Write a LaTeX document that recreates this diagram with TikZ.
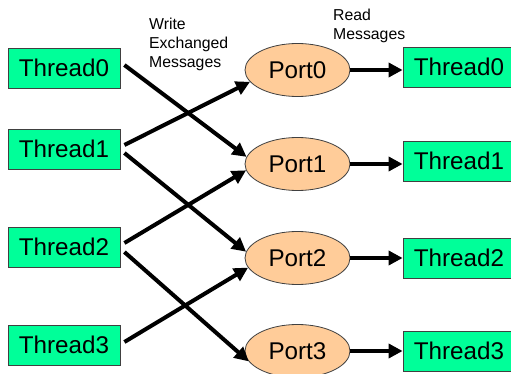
\documentclass[tikz,border=0pt]{standalone}
\usepackage{fontspec}
\setmainfont{Liberation Sans}
\usetikzlibrary{arrows.meta,shapes.geometric,calc}
\definecolor{boxgreen}{RGB}{0,255,153}
\definecolor{portpeach}{RGB}{255,204,153}
\begin{document}
\begin{tikzpicture}[x=1pt,y=-1pt,
  thread/.style={draw=black!75, line width=0.8pt, fill=boxgreen,
    minimum width=112pt, minimum height=40pt, inner sep=0pt,
    font=\fontsize{24.2}{28}\selectfont},
  port/.style={ellipse, draw=black!75, line width=0.8pt, fill=portpeach,
    minimum width=105pt, minimum height=53pt, inner sep=0pt,
    font=\fontsize{24.2}{28}\selectfont},
  msg/.style={line width=4pt, -{Triangle[length=14pt,width=14pt]}},
  caption/.style={anchor=north west, align=left, inner sep=0pt,
    font=\fontsize{15.8}{19}\selectfont}]
\useasboundingbox (0,0) rectangle (511,374);

% writer threads
\node[thread] (t0) at (64,68)  {Thread0};
\node[thread] (t1) at (64,149) {Thread1};
\node[thread] (t2) at (64,247) {Thread2};
\node[thread] (t3) at (64,345) {Thread3};

% message ports
\node[port] (p0) at (297.5,70)  {Port0};
\node[port] (p1) at (297.5,164) {Port1};
\node[port] (p2) at (297.5,258) {Port2};
\node[port] (p3) at (297.5,351) {Port3};

% reader threads
\node[thread] (r0) at (459,67)  {Thread0};
\node[thread] (r1) at (459,161) {Thread1};
\node[thread] (r2) at (459,258) {Thread2};
\node[thread] (r3) at (459,351) {Thread3};

% captions
\node[caption] (wlab) at (149,18) {Write\\Exchanged\\Messages};
\node[caption] (rlab) at (333,9) {Read\\Messages};

% exchanged writes
\draw[msg] ($(t0.east)+(4,-3)$) -- (p1.172);
\draw[msg] ($(t1.east)+(4,-4)$) -- (p0.194);
\draw[msg] ($(t1.east)+(4,4)$)  -- (p2.173);
\draw[msg] ($(t2.east)+(4,-4)$) -- (p1.187);
\draw[msg] ($(t2.east)+(4,5)$)  -- (p3.192);
\draw[msg] ($(t3.east)+(4,-3)$) -- (p2.191);

% reads
\draw[msg] (p0.east) -- (p0.east -| r0.west);
\draw[msg] (p1.east) -- (p1.east -| r1.west);
\draw[msg] (p2.east) -- (p2.east -| r2.west);
\draw[msg] (p3.east) -- (p3.east -| r3.west);
\end{tikzpicture}
\end{document}
